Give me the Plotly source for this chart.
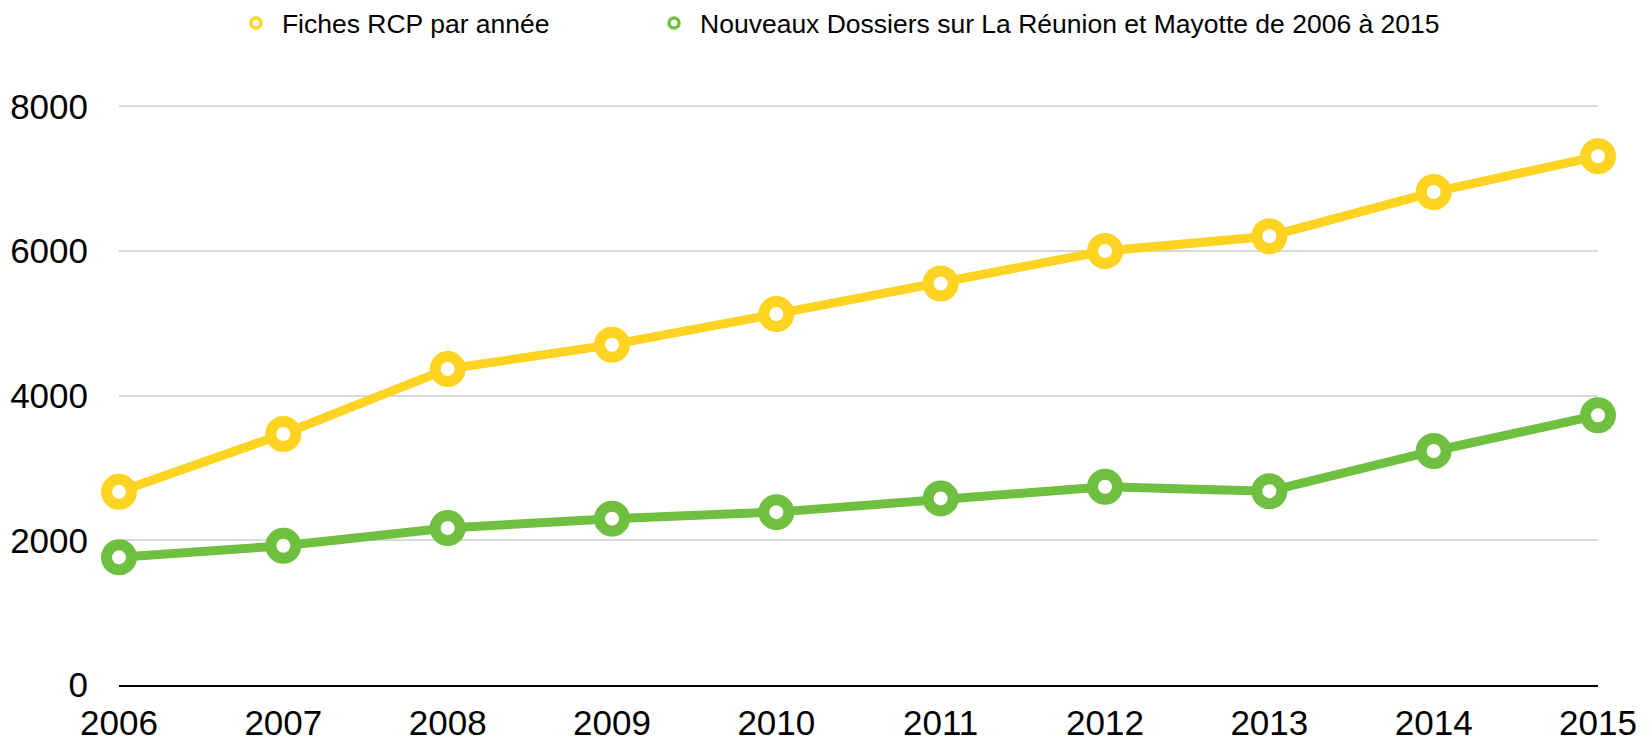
import plotly.graph_objects as go

years = [2006, 2007, 2008, 2009, 2010, 2011, 2012, 2013, 2014, 2015]
fiches_rcp = [2670, 3470, 4370, 4705, 5130, 5550, 6000, 6205, 6815, 7310]
nouveaux_dossiers = [1765, 1925, 2170, 2300, 2390, 2580, 2740, 2680, 3235, 3730]
y_ticks = [0, 2000, 4000, 6000, 8000]

name_rcp = "Fiches RCP par année"
name_dossiers = "Nouveaux Dossiers sur La Réunion et Mayotte de 2006 à 2015"

yellow = "#FED322"
green = "#6FBF40"

fig = go.Figure()
series = [(name_rcp, fiches_rcp, yellow, "legend"), (name_dossiers, nouveaux_dossiers, green, "legend2")]
for name, vals, col, lg in series:
    fig.add_trace(go.Scatter(
        x=years, y=vals, name=name, mode="lines+markers", showlegend=False,
        line=dict(color=col, width=9),
        marker=dict(size=25, color="white", line=dict(color=col, width=11)),
        cliponaxis=False,
    ))
# legend-only entries (small ring symbol, as in the reference)
for name, vals, col, lg in series:
    fig.add_trace(go.Scatter(
        x=[None], y=[None], name=name, mode="markers", showlegend=True, legend=lg,
        marker=dict(size=10, color="white", line=dict(color=col, width=3.5)),
    ))

leg_common = dict(orientation="h", y=1.135, yanchor="middle", xanchor="left",
                  font=dict(size=26.5), itemsizing="trace", itemwidth=42,
                  bgcolor="rgba(0,0,0,0)")

# the page body adds an 8px margin, so the figure is 8px smaller on each axis
fig.update_layout(
    width=1644, height=731,
    paper_bgcolor="white", plot_bgcolor="white",
    margin=dict(l=111, r=54, t=94, b=54, autoexpand=False),
    font=dict(family="Liberation Sans, Arial, Helvetica, sans-serif", color="black"),
    showlegend=True,
    legend=dict(x=0.075, **leg_common),
    legend2=dict(x=0.3577, **leg_common),
    xaxis=dict(
        range=[2006, 2015], tickvals=years, ticktext=[str(y) for y in years],
        showgrid=False, zeroline=False, showline=True, linecolor="black", linewidth=2,
        tickfont=dict(size=35), ticks="", ticklabelstandoff=6, automargin=False,
    ),
    yaxis=dict(
        range=[0, 8060], tickvals=y_ticks, ticktext=[str(v) for v in y_ticks],
        showgrid=True, gridcolor="#D9D9D9", gridwidth=1.5, zeroline=False,
        tickfont=dict(size=35), ticks="", ticklabelstandoff=30, automargin=False,
    ),
)

fig.write_html("out.html")
